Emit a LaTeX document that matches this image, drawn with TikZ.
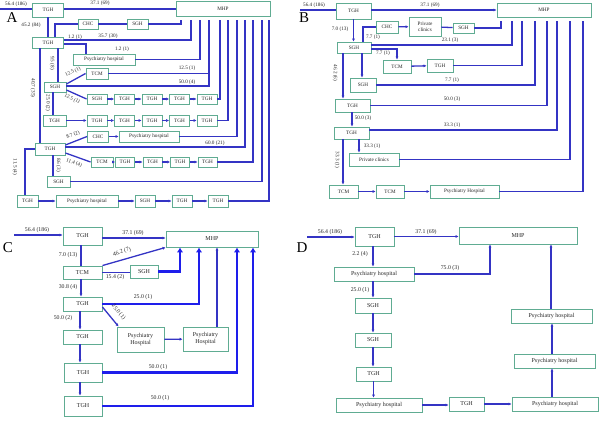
\documentclass[tikz,border=0pt]{standalone}
\usepackage{fontspec}
\setmainfont{Liberation Serif}
\usetikzlibrary{arrows.meta}
\definecolor{lineblue}{RGB}{52,52,196}
\definecolor{thickblue}{RGB}{30,30,235}
\definecolor{boxgreen}{RGB}{96,172,146}
\begin{document}
\begin{tikzpicture}[x=1pt,y=-1pt,
  box/.style={draw=boxgreen,fill=white,line width=0.9pt,inner sep=0pt,font=\fontsize{5.2}{6}\selectfont,text=black!85,align=center},
  bigbox/.style={box,font=\fontsize{6}{7}\selectfont},
  sz/.style 2 args={minimum width=#1,minimum height=#2},
  ln/.style={draw=lineblue,line width=1.3pt},
  arr/.style={ln,-{Latex[length=3pt,width=3.2pt]}},
  fat/.style={draw=thickblue,line width=2.8pt,-{Latex[length=5pt,width=6.5pt]}},
  lbl/.style={inner sep=0pt,font=\fontsize{5.2}{6}\selectfont,text=black!85},
  biglbl/.style={lbl,font=\fontsize{5.8}{7}\selectfont},
  tag/.style={inner sep=0pt,font=\fontsize{15}{15}\selectfont}]
\useasboundingbox (0,0) rectangle (600,435);

% ---------- A ----------
\node[tag] at (12,18) {A};
\node[box,sz={31}{14}] (a1) at (48,10) {TGH};
\node[box,sz={94}{15}] (am) at (223,8.5) {MHP};
\node[box,sz={31}{11}] (a2) at (48,42.5) {TGH};
\node[box,sz={20}{10}] (achc) at (88,24) {CHC};
\node[box,sz={21}{10}] (asgh) at (137.5,24) {SGH};
\node[box,sz={62}{11}] (aph) at (104,59.5) {Psychiatry hospital};
\node[box,sz={22}{10}] (a3) at (55,87) {SGH};
\node[box,sz={22}{11}] (atcm) at (97,73.5) {TCM};
\node[box,sz={30}{12}] (a4) at (50,149) {TGH};
\node[box,sz={21}{11}] (achc2) at (98,136.5) {CHC};
\node[box,sz={60}{11}] (aph2) at (149,136.5) {Psychiatry hospital};
\node[box,sz={23}{11}] (asgh2) at (58.5,181.5) {SGH};
\foreach \i/\t in {0/SGH,1/TGH,2/TGH,3/TGH,4/TGH}
  \node[box,sz={20}{10}] (r1c\i) at ({97+27.5*\i},99) {\t};
\node[box,sz={23}{11}] (r2c0) at (54.5,120.5) {TGH};
\foreach \i in {1,...,5}
  \node[box,sz={20}{11}] (r2c\i) at ({97+27.5*(\i-1)},120.5) {TGH};
\node[box,sz={22}{10}] (r3c0) at (102,162) {TCM};
\foreach \i in {1,...,4}
  \node[box,sz={19}{10}] (r3c\i) at ({125+27.5*(\i-1)},162) {TGH};
\foreach \i/\t/\xx/\w in {0/TGH/27.5/21,1/Psychiatry hospital/87/62,2/SGH/145/20,3/TGH/182/20,4/TGH/218/20}
  \node[box,sz={\w}{12}] (r4c\i) at (\xx,201) {\t};
\foreach \k/\xx in {1/181,2/191,3/200,4/209,5/220,6/228,7/237,8/245,9/253,10/262,11/269}
  \coordinate (ma\k) at (\xx,20);
\coordinate (a0) at (0,9);
\draw[ln] (a0) -- (a0 -| a1.west);
\draw[ln] ([yshift=1pt]a1.east) -- ([yshift=1pt]a1.east -| am.west);
\draw[ln] (a1) -- (a2);
\draw[ln] ([xshift=7pt]a2.north) |- (achc.west);
\draw[ln] (achc) -- (asgh);
\draw[ln] (asgh.east) -| (ma1);
\draw[ln] ([yshift=2.5pt]a2.east) -| (ma2);
\draw[ln] ([yshift=-1.5pt]a2.east) -| ([xshift=-18pt]aph.north);
\draw[ln] (aph.east) -| (ma3);
\draw[ln] (58,0 |- a2.south) -- (58,0 |- a3.north);
\draw[ln] (40,0 |- a2.south) -- (40,0 |- a4.north);
\draw[ln] ([yshift=3pt]a3.east) -- (atcm.west);
\draw[ln] (atcm.east) -| (ma4);
\draw[ln] ([yshift=1pt]a3.east) -| (ma4);
\draw[ln] ([yshift=-3pt]a3.east) -- (r1c0.west);
\foreach \i in {0,...,3}{%
  \pgfmathtruncatemacro\j{\i+1}
  \draw[arr] (r1c\i) -- (r1c\j);
  \draw[arr] (r3c\i) -- (r3c\j);
  \draw[arr] (r4c\i) -- (r4c\j);}
\foreach \i in {0,...,4}{%
  \pgfmathtruncatemacro\j{\i+1}
  \draw[arr] (r2c\i) -- (r2c\j);}
\draw[ln] (r1c4.east) -| (ma5);
\draw[ln] (53,0 |- a3.south) -- (53,0 |- r2c0.north);
\draw[ln] (r2c5.east) -| (ma6);
\draw[ln] ([yshift=4pt]a4.east) -- (achc2.west);
\draw[arr] (achc2) -- (aph2);
\draw[ln] (aph2.east) -| (ma7);
\draw[ln] ([yshift=2pt]a4.east) -| (ma8);
\draw[ln] ([yshift=-4pt]a4.east) -- (r3c0.west);
\draw[ln] (r3c4.east) -| (ma9);
\draw[ln] (53,0 |- a4.south) -- (53,0 |- asgh2.north);
\draw[ln] (asgh2.east) -| (ma10);
\draw[ln] (a4.west) -| (25,0 |- r4c0.north);
\draw[ln] (r4c4.east) -| (ma11);
\node[lbl] at (16,4) {56.4 (186)};
\node[lbl] at (100,3) {37.1 (69)};
\node[lbl] at (31,25) {45.2 (84)};
\node[lbl] at (75,37) {1.2 (1)};
\node[lbl] at (108,36) {35.7 (30)};
\node[lbl] at (122,49) {1.2 (1)};
\node[lbl,rotate=-90] at (52,63) {9.5 (8)};
\node[lbl,rotate=-90] at (33,88) {40.7 (35)};
\node[lbl,rotate=27] at (73,72) {12.5 (1)};
\node[lbl] at (187,68) {12.5 (1)};
\node[lbl] at (187,82) {50.0 (4)};
\node[lbl,rotate=-25] at (72,99) {12.5 (1)};
\node[lbl,rotate=-90] at (48,103) {25.0 (2)};
\node[lbl,rotate=22] at (73,135) {8.7 (2)};
\node[lbl] at (215,143) {60.0 (21)};
\node[lbl,rotate=-20] at (74,163) {11.4 (4)};
\node[lbl,rotate=-90] at (58.5,165) {8.6 (3)};
\node[lbl,rotate=-90] at (15,167) {11.5 (4)};

% ---------- B ----------
\node[tag] at (304,18) {B};
\node[box,sz={35}{16}] (b1) at (353.5,11) {TGH};
\node[box,sz={94}{14}] (bm) at (544,10) {MHP};
\node[box,sz={34}{11}] (b2) at (354,47.5) {SGH};
\node[box,sz={22}{12}] (bchc) at (387,27) {CHC};
\node[box,sz={32}{19}] (bpc) at (425,26.5) {Private\\clinics};
\node[box,sz={21}{10}] (bsgh) at (463.5,28) {SGH};
\node[box,sz={28}{13}] (btcm) at (397,66.5) {TCM};
\node[box,sz={26}{13}] (btgh) at (440,65.5) {TGH};
\node[box,sz={26}{14}] (bsgh2) at (363,85) {SGH};
\node[box,sz={35}{13}] (b3) at (352.5,105.5) {TGH};
\node[box,sz={35}{12}] (b4) at (351.5,133) {TGH};
\node[box,sz={50}{13}] (bpc2) at (374,159.5) {Private clinics};
\node[box,sz={29}{13}] (btcm2) at (343.5,191.5) {TCM};
\node[box,sz={28}{13}] (btcm3) at (390,191.5) {TCM};
\node[box,sz={69}{13}] (bph) at (464.5,191.5) {Psychiatry Hospital};
\foreach \k/\xx in {1/501,2/512,3/522,4/535,5/547,6/557,7/570,8/583}
  \coordinate (mb\k) at (\xx,21);
\coordinate (b0) at (300,10);
\draw[ln] (b0) -- (b0 -| b1.west);
\draw[arr] ([yshift=1pt]b1.east) -- ([yshift=1pt]b1.east -| bm.west);
\draw[arr] (b1.south) -- (b1.south |- b2.north);
\draw[ln] (363,0 |- b2.north) |- (bchc.west);
\draw[arr] (bchc) -- (bpc);
\draw[ln] (bpc) -- (bsgh);
\draw[ln] (bsgh.east) -| (mb1);
\draw[ln] ([yshift=2.5pt]b2.east) -| (mb2);
\draw[arr] ([yshift=-1.5pt]b2.east) -| (btcm.north);
\draw[arr] (btcm) -- (btgh);
\draw[ln] (btgh.east) -| (mb3);
\draw[arr] (362,0 |- b2.south) -- (362,0 |- bsgh2.north);
\draw[ln] (bsgh2.east) -| (mb4);
\draw[arr] (343,0 |- b2.south) -- (343,0 |- b3.north);
\draw[ln] (b3.east) -| (mb5);
\draw[arr] (352,0 |- b3.south) -- (352,0 |- b4.north);
\draw[ln] ([yshift=3pt]b4.east) -| (mb6);
\draw[arr] (359,0 |- b4.south) -- (359,0 |- bpc2.north);
\draw[ln] (bpc2.east) -| (mb7);
\draw[arr] (343,0 |- b4.south) -- (343,0 |- btcm2.north);
\draw[arr] (btcm2) -- (btcm3);
\draw[arr] (btcm3) -- (bph);
\draw[ln] (bph.east) -| (mb8);
\node[lbl] at (314,5) {56.4 (186)};
\node[lbl] at (430,5) {37.1 (69)};
\node[lbl] at (340,29) {7.0 (13)};
\node[lbl] at (373,37) {7.7 (1)};
\node[lbl] at (450,40) {23.1 (3)};
\node[lbl] at (383,53) {7.7 (1)};
\node[lbl] at (452,80) {7.7 (1)};
\node[lbl,rotate=-90] at (335,73) {46.2 (6)};
\node[lbl] at (452,99) {50.0 (3)};
\node[lbl] at (363,118) {50.0 (3)};
\node[lbl] at (452,125) {33.3 (1)};
\node[lbl] at (372,146) {33.3 (1)};
\node[lbl,rotate=-90] at (337,160) {33.3 (1)};

% ---------- C ----------
\node[tag] at (8,248) {C};
\node[bigbox,sz={39}{18}] (c1) at (82.5,236) {TGH};
\node[bigbox,sz={92}{16}] (cm) at (212,239) {MHP};
\node[bigbox,sz={39}{13}] (ctcm) at (82.5,272.5) {TCM};
\node[bigbox,sz={28}{13}] (csgh) at (144,271.5) {SGH};
\node[bigbox,sz={39}{14}] (c2) at (82.5,304) {TGH};
\node[bigbox,sz={47}{25}] (cph) at (140.5,339.5) {Psychiatry\\Hospital};
\node[bigbox,sz={45}{24}] (cph2) at (205.5,339) {Psychiatry\\Hospital};
\node[bigbox,sz={39}{14}] (c3) at (82.5,337) {TGH};
\node[bigbox,sz={38}{19}] (c4) at (83,372.5) {TGH};
\node[bigbox,sz={38}{20}] (c5) at (83,406) {TGH};
\coordinate (c0) at (14,235);
\draw[arr] (c0) -- (c0 -| c1.west);
\draw[arr] ([yshift=-2pt]c1.east) -- ([yshift=-2pt]c1.east -| cm.west);
\draw[ln] (81,0 |- c1.south) -- (81,0 |- ctcm.north);
\draw[arr] (ctcm.north east) -- (cm.south west);
\draw[ln] (ctcm.east) -- (ctcm.east -| csgh.west);
\draw[fat] (csgh.east) -| (180,0 |- cm.south);
\draw[arr] (81,0 |- ctcm.south) -- (81,0 |- c2.north);
\draw[fat] (c2.east) -| (199,0 |- cm.south);
\draw[arr] ([yshift=-3pt]c2.east) -- ([xshift=2pt]cph.north west);
\draw[arr] (cph) -- (cph2);
\draw[arr] (217,0 |- cph2.north) -- (217,0 |- cm.south);
\draw[arr] (80,0 |- c2.south) -- (80,0 |- c3.north);
\draw[arr] (80,0 |- c3.south) -- (80,0 |- c4.north);
\draw[arr] (80,0 |- c4.south) -- (80,0 |- c5.north);
\draw[fat] (c4.east) -| (237,0 |- cm.south);
\draw[fat] (c5.east) -| (253,0 |- cm.south);
\node[biglbl] at (37,230) {56.4 (186)};
\node[biglbl] at (133,233) {37.1 (69)};
\node[biglbl] at (68,255) {7.0 (13)};
\node[biglbl,rotate=18] at (122,252) {46.2 (7)};
\node[biglbl] at (115,277.5) {15.4 (2)};
\node[biglbl] at (68,287) {30.8 (4)};
\node[biglbl] at (143,297) {25.0 (1)};
\node[biglbl,rotate=-50] at (118.5,312) {25.0 (1)};
\node[biglbl] at (63,318) {50.0 (2)};
\node[biglbl] at (158,367) {50.0 (1)};
\node[biglbl] at (160,398) {50.0 (1)};

% ---------- D ----------
\node[tag] at (302,248) {D};
\node[bigbox,sz={39}{19}] (d1) at (374.5,236.5) {TGH};
\node[bigbox,sz={118}{17}] (dm) at (518,235.5) {MHP};
\node[bigbox,sz={80}{14}] (dph) at (374,274) {Psychiatry hospital};
\node[bigbox,sz={36}{15}] (dsgh) at (373,305.5) {SGH};
\node[bigbox,sz={36}{14}] (dsgh2) at (373,340) {SGH};
\node[bigbox,sz={35}{14}] (d2) at (373.5,374) {TGH};
\node[bigbox,sz={86}{14}] (dph2) at (379,405) {Psychiatry hospital};
\node[bigbox,sz={35}{14}] (d3) at (466.5,404) {TGH};
\node[bigbox,sz={86}{14}] (dph3) at (555,404) {Psychiatry hospital};
\node[bigbox,sz={81}{14}] (dph4) at (554.5,361) {Psychiatry hospital};
\node[bigbox,sz={81}{14}] (dph5) at (551.5,316) {Psychiatry hospital};
\coordinate (d0) at (307,237);
\draw[arr] (d0) -- (d0 -| d1.west);
\draw[arr] (d1.east) -- (d1.east -| dm.west);
\draw[arr] (373,0 |- d1.south) -- (373,0 |- dph.north);
\draw[arr] (dph.east) -| (490,0 |- dm.south);
\draw[arr] (373,0 |- dph.south) -- (373,0 |- dsgh.north);
\draw[arr] (dsgh) -- (dsgh2);
\draw[arr] (dsgh2) -- (dsgh2 |- d2.north);
\draw[arr] (373.5,0 |- d2.south) -- (373.5,0 |- dph2.north);
\draw[arr] (dph2.east) -- (dph2.east -| d3.west);
\draw[arr] (d3) -- (dph3);
\draw[arr] (552,0 |- dph3.north) -- (552,0 |- dph4.south);
\draw[arr] (552,0 |- dph4.north) -- (552,0 |- dph5.south);
\draw[arr] (551,0 |- dph5.north) -- (551,0 |- dm.south);
\node[biglbl] at (330,232) {56.4 (186)};
\node[biglbl] at (426,232) {37.1 (69)};
\node[biglbl] at (360,254) {2.2 (4)};
\node[biglbl] at (450,268) {75.0 (3)};
\node[biglbl] at (360,290) {25.0 (1)};
\end{tikzpicture}
\end{document}
